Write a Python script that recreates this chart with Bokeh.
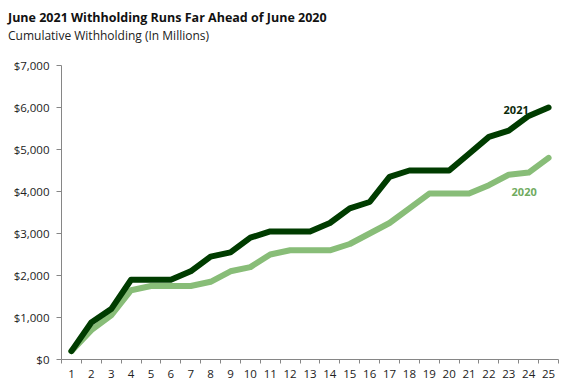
from bokeh.plotting import figure
from bokeh.layouts import column
from bokeh.models import ColumnDataSource, FixedTicker, NumeralTickFormatter, Range1d, Label, Div
from bokeh.embed import file_html
from bokeh.resources import INLINE

days = list(range(1, 26))
w2021 = [200, 880, 1200, 1900, 1900, 1900, 2100, 2450, 2550, 2900, 3050, 3050, 3050, 3250,
         3600, 3750, 4350, 4500, 4500, 4500, 4900, 5300, 5450, 5800, 6000]
w2020 = [200, 700, 1050, 1650, 1750, 1750, 1750, 1850, 2100, 2200, 2500, 2600, 2600, 2600,
         2750, 3000, 3250, 3600, 3950, 3950, 3950, 4150, 4400, 4450, 4800]
y_ticks = [0, 1000, 2000, 3000, 4000, 5000, 6000, 7000]
title_text = "June 2021 Withholding Runs Far Ahead of June 2020"
subtitle_text = "Cumulative Withholding (In Millions)"

FONT = "Open Sans"
src = ColumnDataSource(dict(x=days, a=w2021, b=w2020))

head = Div(text=(
    f'<div style="font-family:\'{FONT}\';font-size:12.5px;font-weight:bold;color:#111111;'
    f'line-height:18px;padding-top:1px;white-space:nowrap">{title_text}</div>'
    f'<div style="font-family:\'{FONT}\';font-size:12px;color:#222222;'
    f'line-height:18px;white-space:nowrap">{subtitle_text}</div>'),
    width=552, height=49, margin=(0, 0, 0, 0))

p = figure(width=552, height=323, output_backend="svg", toolbar_location=None,
           x_range=Range1d(0.5, 25.5), y_range=Range1d(0, 7000), margin=(0, 0, 0, 0))
p.min_border_left = 53
p.min_border_right = 2
p.min_border_bottom = 20
p.min_border_top = 8
p.outline_line_color = None
p.xgrid.grid_line_color = None
p.ygrid.grid_line_color = None

p.line("x", "b", source=src, line_color="#88bd78", line_width=6, line_cap="round", line_join="round")
p.line("x", "a", source=src, line_color="#003c00", line_width=6, line_cap="round", line_join="round")

p.add_layout(Label(x=days[-1], y=w2021[-1], text="2021", x_offset=-45, y_offset=-6,
                   text_font=FONT, text_font_size="11px", text_font_style="bold",
                   text_color="#0b2a0b"))
p.add_layout(Label(x=days[-1], y=w2020[-1], text="2020", x_offset=-37, y_offset=-38,
                   text_font=FONT, text_font_size="11px", text_font_style="bold",
                   text_color="#70ab5f"))

xa = p.xaxis[0]
xa.ticker = FixedTicker(ticks=days, minor_ticks=[d - 0.5 for d in days] + [25.5])
xa.major_tick_out = 0
xa.major_tick_in = 0
xa.minor_tick_out = 4
xa.minor_tick_in = 0
xa.minor_tick_line_color = "#868686"
xa.axis_line_color = "#868686"
xa.major_label_text_font = FONT
xa.major_label_text_font_size = "11.5px"
xa.major_label_text_color = "#222222"
xa.major_label_standoff = 6

ya = p.yaxis[0]
ya.ticker = FixedTicker(ticks=y_ticks)
ya.formatter = NumeralTickFormatter(format="$0,0")
ya.major_tick_out = 5
ya.major_tick_in = 0
ya.minor_tick_line_color = None
ya.major_tick_line_color = "#868686"
ya.axis_line_color = "#868686"
ya.major_label_text_font = FONT
ya.major_label_text_font_size = "11.5px"
ya.major_label_text_color = "#222222"
ya.major_label_standoff = 7

layout = column(head, p, spacing=0, margin=(8, 0, 0, 8))
open("out.html", "w").write(file_html(layout, INLINE))
